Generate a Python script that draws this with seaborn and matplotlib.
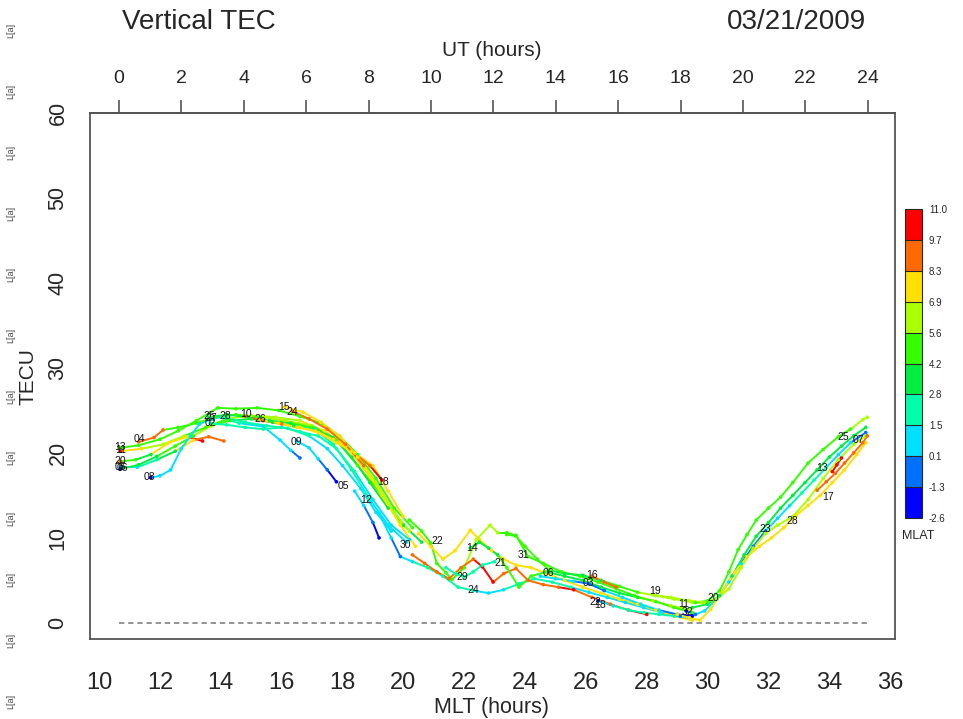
import matplotlib
matplotlib.use("Agg")
import numpy as np
import pandas as pd
import matplotlib.pyplot as plt
import seaborn as sns
from matplotlib.colors import ListedColormap, BoundaryNorm
from matplotlib.collections import LineCollection

# MLAT colour scale (discrete)
mlat_bounds = [-2.6, -1.3, 0.1, 1.5, 2.8, 4.2, 5.6, 6.9, 8.3, 9.7, 11.0]
mlat_tick_labels = ["-2.6", "-1.3", "0.1", "1.5", "2.8", "4.2", "5.6", "6.9", "8.3", "9.7", "11.0"]
mlat_colors = ["#0000ff", "#0070ff", "#00e0ff", "#00ffaa", "#00ee40",
               "#33ff00", "#aaff00", "#ffe000", "#ff6a00", "#ff0000"]

ut_ticks = list(range(0, 25, 2))
mlt_ticks = list(range(10, 37, 2))
tec_ticks = list(range(0, 61, 10))

ut0_mlt = 10.657
mlt_per_ut = 1.02525

# satellite tracks: MLT, TEC and MLAT at points read along each track
track_mlt = [
    [10.7, 11.3, 12.0, 12.6, 13.2, 13.9, 14.5, 15.2, 15.9, 16.6, 17.3, 17.9, 18.5, 19.1, 19.7, 20.3],
    [10.7, 11.4, 12.1, 12.8, 13.5, 14.2, 15.0, 15.8, 16.6, 17.4, 18.1, 18.7, 19.3, 19.9],
    [10.7, 11.2, 11.7, 12.3, 12.9, 13.4],
    [10.7, 11.25, 11.9, 12.5, 13.1, 13.6, 14.1],
    [10.7, 11.3, 11.9, 12.5, 13.1, 13.7, 14.3, 15.0, 15.7, 16.4, 17.1, 17.7, 18.3, 18.9, 19.5, 20.1],
    [11.7, 12.0, 12.35, 12.7, 13.0, 13.3, 13.7, 14.0, 14.6, 15.4, 15.95, 16.3, 16.6],
    [11.3, 11.8, 12.1, 12.6, 13.2, 13.8, 14.5, 15.3, 16.1, 17.0, 17.8, 18.5, 19.3, 20.0, 20.6],
    [13.65, 14.2, 14.8, 15.4, 16.0, 16.6, 17.2, 17.8, 18.4, 19.0, 19.6, 20.2],
    [13.6, 14.2, 14.9, 15.6, 16.3, 17.0, 17.7, 18.3, 18.9, 19.5],
    [14.2, 14.8, 15.5, 16.2, 16.9, 17.5, 18.0, 18.6, 19.1, 19.6],
    [14.8, 15.4, 16.0, 16.6, 17.2, 17.8, 18.4, 19.0, 19.5, 20.0],
    [15.3, 15.9, 16.5, 17.1, 17.7, 18.3, 18.9, 19.3],
    [16.1, 16.7, 17.3, 17.9, 18.5, 19.1, 19.7, 20.2],
    [16.35, 16.9, 17.5, 18.1, 18.7, 19.3, 19.9, 20.4],
    [16.5, 16.9, 17.2, 17.5, 17.8],
    [18.4, 18.7, 19.0, 19.2],
    # night side
    [19.2, 19.6, 19.9, 20.3, 20.8, 21.3, 21.8, 22.3, 22.8, 23.3, 23.8, 24.3, 24.9, 25.5, 26.1, 26.7, 27.3, 27.9, 28.5, 29.1],
    [20.2, 20.6, 20.9, 21.1, 21.4, 21.6, 22.0, 22.4, 22.85, 23.1, 23.4, 23.7, 24.1, 24.6, 25.2, 25.8, 26.4, 27.0, 27.6, 28.2, 28.8, 29.4],
    [20.5, 20.9, 21.3, 21.7, 22.2, 22.5, 22.9, 23.3, 23.7, 24.2, 24.7, 25.3, 25.9, 26.5, 27.1, 27.7, 28.3, 28.9, 29.5],
    [20.3, 20.7, 21.1, 21.5, 21.9, 22.3, 22.6, 22.95, 23.3, 23.7, 24.1, 24.6, 25.1, 25.6, 26.2, 26.8, 27.4, 28.0],
    [22.2, 22.5, 22.8, 23.1, 23.4, 23.8, 24.2, 24.7, 25.3, 25.9, 26.5, 27.1, 27.7, 28.3, 28.9, 29.5],
    [23.4, 23.7, 24.0, 24.4, 24.8, 25.3, 25.9, 26.5, 27.1, 27.7, 28.3, 28.9, 29.5, 30.0],
    [24.5, 25.0, 25.6, 26.1, 26.6, 27.2, 27.8, 28.4, 29.0, 29.5],
    [26.2, 26.6, 27.0],
    [26.4, 26.9, 27.4, 27.9, 28.4, 28.9, 29.4],
    [21.4, 21.7, 22.0, 22.3, 22.6, 23.0],
    # dawn side
    [29.6, 30.0, 30.4, 30.7, 31.0, 31.3, 31.6, 32.0, 32.4, 32.8, 33.3, 33.8, 34.3, 34.7, 35.1, 35.25],
    [29.5, 30.0, 30.4, 30.8, 31.2, 31.6, 32.0, 32.4, 32.8, 33.2, 33.6, 34.0, 34.4, 34.8, 35.2],
    [29.3, 29.6, 29.9, 30.3, 30.7, 31.1, 31.5, 31.9, 32.3, 32.7, 33.1, 33.5, 33.9, 34.3, 34.7, 35.2],
    [29.0, 29.4, 29.75, 30.1, 30.5, 30.9, 31.3, 31.7, 32.1, 32.5, 32.9, 33.3, 33.7, 34.1, 34.5, 34.9, 35.2],
    [28.2, 28.8, 29.4, 29.9, 30.3, 30.7, 31.1, 31.5, 31.9, 32.3, 32.8, 33.3, 33.8, 34.3, 34.8, 35.2],
    [33.6, 33.9, 34.2, 34.5, 34.8, 35.1, 35.25],
    [34.1, 34.25, 34.4],
]
track_tec = [
    [20.6, 20.9, 21.6, 22.6, 23.8, 25.3, 25.2, 25.3, 25.0, 24.3, 23.5, 22.0, 19.8, 17.0, 13.5, 11.2],
    [20.2, 20.5, 21.0, 22.0, 23.0, 24.0, 24.4, 24.2, 23.8, 22.6, 20.8, 18.2, 15.0, 11.8],
    [19.0, 19.2, 19.8, 21.2, 21.9, 21.4],
    [18.3, 18.3, 19.2, 20.2, 21.5, 21.9, 21.4],
    [18.1, 18.6, 19.6, 20.8, 22.0, 23.2, 23.8, 24.0, 23.6, 23.2, 22.8, 21.0, 18.0, 14.5, 11.5, 9.5],
    [17.1, 17.3, 18.0, 20.5, 22.0, 23.4, 24.0, 24.2, 23.5, 23.1, 21.5, 20.3, 19.4],
    [21.3, 21.8, 22.7, 23.0, 23.5, 24.2, 24.5, 24.2, 23.8, 23.2, 21.5, 18.5, 15.0, 11.5, 9.5],
    [23.5, 23.3, 23.0, 22.8, 23.0, 22.5, 22.0, 20.5, 17.8, 14.5, 11.5, 9.8],
    [24.2, 24.5, 24.2, 23.8, 23.5, 23.0, 21.8, 19.5, 16.5, 13.5],
    [24.1, 23.6, 23.2, 22.9, 22.0, 20.5, 18.5, 15.8, 13.0, 10.8],
    [24.3, 23.8, 23.4, 23.0, 22.4, 21.2, 20.0, 18.5, 15.5, 12.5],
    [23.9, 23.5, 23.0, 22.6, 21.6, 20.2, 18.5, 16.8],
    [25.4, 24.8, 23.6, 22.0, 19.5, 16.5, 13.0, 10.8],
    [24.9, 24.0, 22.8, 21.0, 18.5, 15.0, 11.5, 9.0],
    [21.4, 20.6, 19.3, 18.0, 16.6],
    [15.5, 13.8, 11.8, 10.0],
    [12.9, 10.0, 7.8, 7.2, 6.5, 5.5, 4.2, 3.8, 3.5, 3.9, 4.6, 5.2, 4.8, 4.2, 3.6, 3.0, 2.4, 1.8, 1.2, 0.8],
    [12.1, 10.8, 9.4, 7.0, 5.9, 5.1, 6.5, 9.8, 11.5, 10.6, 10.6, 10.3, 7.8, 7.0, 6.0, 5.5, 4.8, 4.0, 3.2, 2.6, 2.0, 1.6],
    [10.5, 9.0, 7.5, 8.5, 10.9, 9.8, 8.5, 7.5, 6.8, 6.5, 5.8, 5.0, 4.2, 3.5, 2.8, 2.2, 1.5, 0.8, 0.3],
    [8.0, 7.0, 6.0, 5.2, 6.5, 7.5, 6.6, 4.8, 5.8, 6.4, 5.0, 4.5, 4.2, 3.9, 3.0, 2.2, 1.5, 1.0],
    [8.8, 9.5, 8.8, 8.0, 6.5, 4.2, 5.5, 6.0, 5.5, 5.0, 4.2, 3.5, 3.0, 2.5, 1.8, 1.2],
    [10.4, 10.2, 9.0, 7.5, 6.2, 5.8, 5.6, 5.0, 4.3, 3.6, 3.2, 2.8, 2.4, 2.3],
    [5.5, 5.2, 4.9, 4.6, 3.8, 3.0, 2.2, 1.5, 1.0, 0.8],
    [5.5, 4.8, 4.2],
    [2.6, 2.0, 1.5, 1.2, 1.0, 0.8, 0.6],
    [6.5, 5.8, 5.4, 6.0, 6.8, 7.2],
    [2.4, 2.6, 3.8, 6.0, 8.6, 10.4, 12.1, 13.5, 14.8, 16.5, 18.8, 20.4, 21.9, 22.8, 23.9, 24.2],
    [1.8, 2.2, 3.2, 5.5, 8.0, 10.2, 11.8, 13.5, 15.0, 16.5, 18.0, 19.5, 20.8, 22.0, 23.0],
    [1.4, 1.0, 1.4, 2.8, 4.8, 7.0, 9.0, 10.8, 12.3, 13.8, 15.3, 16.8, 18.3, 19.8, 21.2, 22.4],
    [1.0, 0.6, 0.3, 1.6, 3.8, 6.0, 7.8, 9.0, 10.0, 11.2, 12.6, 13.8, 15.0, 16.5, 18.0, 19.8, 21.2],
    [3.3, 3.0, 2.6, 2.4, 2.8, 4.0, 6.5, 8.8, 10.5, 11.5, 12.5, 14.5, 17.0, 19.2, 21.0, 22.0],
    [15.6, 16.6, 17.6, 18.8, 20.0, 21.2, 22.0],
    [17.8, 18.6, 19.4],
]
track_mlat = [
    [4.6, 4.6, 4.8, 5.0, 4.8, 4.5, 4.7, 5.0, 5.3, 5.5, 5.2, 4.8, 4.5, 4.3, 4.5, 4.8],
    [9.8, 7.2, 6.3, 5.8, 5.5, 5.3, 6.0, 6.3, 6.6, 7.2, 7.6, 7.4, 7.0, 6.5],
    [8.8, 4.5, 4.0, 7.2, 7.8, 10.3],
    [0.6, 1.2, 2.2, 4.0, 7.8, 8.8, 9.4],
    [-1.6, 3.2, 4.0, 4.6, 5.0, 5.8, 4.6, 4.0, 3.5, 3.0, 2.6, 2.2, 2.0, 1.6, 1.2, 0.8],
    [-1.5, 0.8, 0.9, 1.0, 1.0, 1.2, 1.0, 0.8, 1.5, 1.0, 0.8, 0.5, -0.8],
    [9.0, 9.5, 9.0, 5.0, 4.5, 4.3, 4.6, 5.0, 6.0, 6.2, 5.5, 5.0, 4.5, 4.0, 3.5],
    [2.0, 2.3, 2.5, 2.5, 2.4, 2.2, 2.0, 1.8, 1.5, 1.0, 0.8, 0.5],
    [3.0, 3.2, 3.5, 3.8, 4.0, 4.2, 4.0, 3.6, 3.2, 3.0],
    [2.4, 2.2, 2.0, 1.8, 1.6, 1.4, 1.0, 0.8, 0.5, 0.3],
    [9.5, 9.0, 8.5, 8.0, 7.5, 7.8, 8.0, 7.5, 7.2, 7.0],
    [8.0, 7.8, 7.6, 7.4, 7.6, 8.0, 9.0, 10.2],
    [7.5, 7.4, 7.3, 7.2, 7.0, 6.8, 6.6, 6.4],
    [8.4, 8.6, 8.9, 9.2, 8.8, 8.0, 7.5, 7.0],
    [1.2, 0.9, 0.5, -0.5, -1.8],
    [1.0, 0.5, -0.8, -1.8],
    [1.2, 1.0, -0.5, 1.0, 1.5, 2.0, 2.2, 1.8, 1.0, 1.2, 1.5, 2.0, 1.8, 1.5, 1.2, 1.0, 0.8, 0.5, 0.2, -0.5],
    [5.0, 4.8, 4.6, 4.8, 5.0, 5.2, 5.5, 5.8, 6.0, 5.8, 5.5, 5.2, 5.0, 4.8, 4.5, 4.2, 4.5, 5.0, 5.5, 5.8, 6.0, 6.2],
    [7.2, 7.5, 7.8, 7.6, 7.4, 7.2, 7.5, 7.8, 7.6, 7.4, 7.2, 7.0, 7.2, 7.4, 7.6, 7.8, 7.6, 7.4, 7.2],
    [8.8, 9.0, 9.2, 9.0, 8.8, 9.0, 10.2, 10.4, 9.2, 9.0, 8.8, 9.0, 9.2, 10.2, 9.0, 8.8, 9.0, 10.2],
    [4.0, 3.8, 3.6, 3.5, 4.2, 5.0, 5.5, 4.5, 4.0, 3.8, 3.5, 3.8, 4.0, 4.5, 5.0, 5.2],
    [5.5, 5.2, 5.0, 4.6, 4.2, 3.8, 3.5, 3.8, 4.2, 5.0, 5.6, 6.2, 6.5, 6.0],
    [0.8, 0.6, 0.2, -0.4, -0.8, 0.2, 0.8, 0.4, -0.6, -1.8],
    [9.0, 8.8, 8.6],
    [-1.8, 0.8, 2.0, 2.5, 2.0, 1.5, 1.0],
    [2.0, 2.2, 2.1, 2.0, 1.8, 1.6],
    [4.5, 4.6, 4.8, 5.0, 5.2, 5.0, 4.8, 4.6, 4.5, 4.6, 4.8, 5.0, 5.2, 5.4, 5.8, 6.0],
    [3.5, 3.6, 3.4, 3.2, 3.0, 3.2, 3.4, 3.6, 3.5, 3.3, 3.0, 2.9, 3.2, 3.5, 3.8],
    [-1.8, -0.8, 0.5, 1.0, 1.2, 1.0, -0.5, -0.8, 0.5, 1.0, 1.5, 2.0, 1.8, 1.0, 0.6, -0.5],
    [7.4, 7.6, 7.5, 7.4, 7.6, 7.8, 7.6, 7.4, 7.2, 7.4, 7.6, 7.5, 7.4, 7.6, 7.8, 7.5, 7.2],
    [6.2, 6.3, 6.4, 6.2, 6.0, 6.2, 6.4, 6.5, 6.3, 6.2, 6.0, 6.2, 6.4, 6.6, 6.8, 6.5],
    [9.0, 9.0, 9.2, 8.8, 9.0, 8.5, 8.8],
    [10.3, 10.3, 10.3],
]

# PRN labels written on the tracks
label_text = ["13", "11", "20", "05", "06", "04", "08", "25", "27", "02", "28", "10", "26",
              "15", "24", "09", "05", "18", "12", "30", "22", "14", "29", "24", "21", "31",
              "06", "16", "03", "22", "18", "19", "11", "32", "20", "23", "28", "17", "13",
              "25", "07"]
label_mlt = [10.70, 10.70, 10.70, 10.70, 10.78, 11.32, 11.66, 13.62, 13.70, 13.65, 14.15, 14.84,
             15.30, 16.08, 16.36, 16.50, 18.02, 19.34, 18.78, 20.06, 21.10, 22.26, 21.93, 22.30,
             23.20, 23.94, 24.76, 26.20, 26.07, 26.30, 26.48, 28.28, 29.20, 29.33, 30.18, 31.90,
             32.80, 33.97, 33.77, 34.46, 34.95]
label_tec = [20.7, 20.4, 19.1, 18.3, 18.2, 21.6, 17.2, 24.3, 24.1, 23.5, 24.3, 24.6, 24.0,
             25.4, 24.8, 21.3, 16.1, 16.6, 14.5, 9.2, 9.6, 8.8, 5.4, 3.9, 7.0, 8.0, 5.9, 5.6,
             4.7, 2.5, 2.1, 3.7, 2.2, 1.3, 2.9, 11.0, 12.0, 14.8, 18.2, 21.9, 21.5]

# ---------------------------------------------------------------
W, H = 963, 719
sns.set_style("white")
plt.rcParams["font.family"] = ["Liberation Sans", "DejaVu Sans"]

cmap = ListedColormap(mlat_colors)
norm = BoundaryNorm(mlat_bounds, cmap.N)

fig = plt.figure(figsize=(W / 100, H / 100), dpi=100)
ax = fig.add_axes([90 / W, 1 - 639 / H, (895 - 90) / W, (639 - 113) / H])

rows = []
for i, (xs, ys, ms) in enumerate(zip(track_mlt, track_tec, track_mlat)):
    for x, y, m in zip(xs, ys, ms):
        rows.append({"track": i, "MLT": x, "TEC": y, "MLAT": m})
df = pd.DataFrame(rows)

# coloured track lines, one segment per pair of neighbouring points
segs, seg_vals = [], []
for _, g in df.groupby("track"):
    pts = g[["MLT", "TEC"]].to_numpy()
    vals = g["MLAT"].to_numpy()
    for k in range(len(pts) - 1):
        segs.append(pts[k:k + 2])
        seg_vals.append(vals[k + 1])
lc = LineCollection(segs, cmap=cmap, norm=norm, linewidths=1.4, capstyle="round", zorder=2)
lc.set_array(np.array(seg_vals))
ax.add_collection(lc)

sns.scatterplot(data=df, x="MLT", y="TEC", hue="MLAT", palette=cmap, hue_norm=norm,
                s=7, linewidth=0, legend=False, ax=ax, zorder=3)

# zero line over the UT day
zero_mlt = [ut0_mlt, ut0_mlt + 24 * mlt_per_ut]
ax.plot(zero_mlt, [0, 0], color="#777777", lw=1.1, ls=(0, (3.5, 2.5)), zorder=1)

for t, x, y in zip(label_text, label_mlt, label_tec):
    ax.text(x, y, t, fontsize=7.5, ha="center", va="center", color="#111111", zorder=4)

ax.set_xlim(9.70, 36.16)
ax.set_ylim(-1.9, 60)
ax.set_xlabel("")
ax.set_ylabel("")
ax.set_xticks(mlt_ticks)
ax.set_yticks(tec_ticks)
ax.tick_params(axis="x", direction="out", length=9.5, width=1.2, color="#555555",
               labelsize=17, pad=14)
ax.tick_params(axis="y", direction="out", length=9.5, width=1.2, color="#555555",
               labelsize=15.5, pad=6, labelrotation=90)
for lab in ax.get_yticklabels():
    lab.set_va("center")
for sp in ax.spines.values():
    sp.set_color("#555555")
    sp.set_linewidth(1.3)

top = ax.secondary_xaxis("top", functions=(lambda m: (m - ut0_mlt) / mlt_per_ut,
                                             lambda u: ut0_mlt + u * mlt_per_ut))
top.set_xticks(ut_ticks)
top.tick_params(direction="out", length=9.5, width=1.2, color="#555555", labelsize=14, pad=9)
top.spines["top"].set_color("#555555")
top.spines["top"].set_linewidth(1.3)

fig.text(122 / W, 1 - 22 / H, "Vertical TEC", fontsize=20, ha="left", va="center")
fig.text(866 / W, 1 - 22 / H, "03/21/2009", fontsize=20, ha="right", va="center")
fig.text(492 / W, 1 - 50 / H, "UT (hours)", fontsize=15, ha="center", va="center")
fig.text(492 / W, 1 - 707 / H, "MLT (hours)", fontsize=15.5, ha="center", va="center")
fig.text(28 / W, 1 - 377 / H, "TECU", fontsize=15, ha="center", va="center", rotation=90)

# stray marks down the left edge
for yy in range(30, 706, 61):
    fig.text(11 / W, 1 - yy / H, "L[a]", fontsize=6.5, ha="center", va="center",
             rotation=90, color="#444444")

# discrete MLAT colour bar
cax = fig.add_axes([905 / W, 1 - 518 / H, 17 / W, (518 - 209) / H])
cb = fig.colorbar(plt.cm.ScalarMappable(norm=norm, cmap=cmap), cax=cax,
                  boundaries=mlat_bounds, ticks=mlat_bounds, drawedges=True)
cb.ax.set_yticklabels(mlat_tick_labels)
cb.ax.tick_params(length=0, labelsize=7, pad=5)
cb.outline.set_linewidth(0.8)
cb.dividers.set_linewidth(0.8)
fig.text(918 / W, 1 - 536 / H, "MLAT", fontsize=9, ha="center", va="center")

fig.savefig("out.png", dpi=100)
